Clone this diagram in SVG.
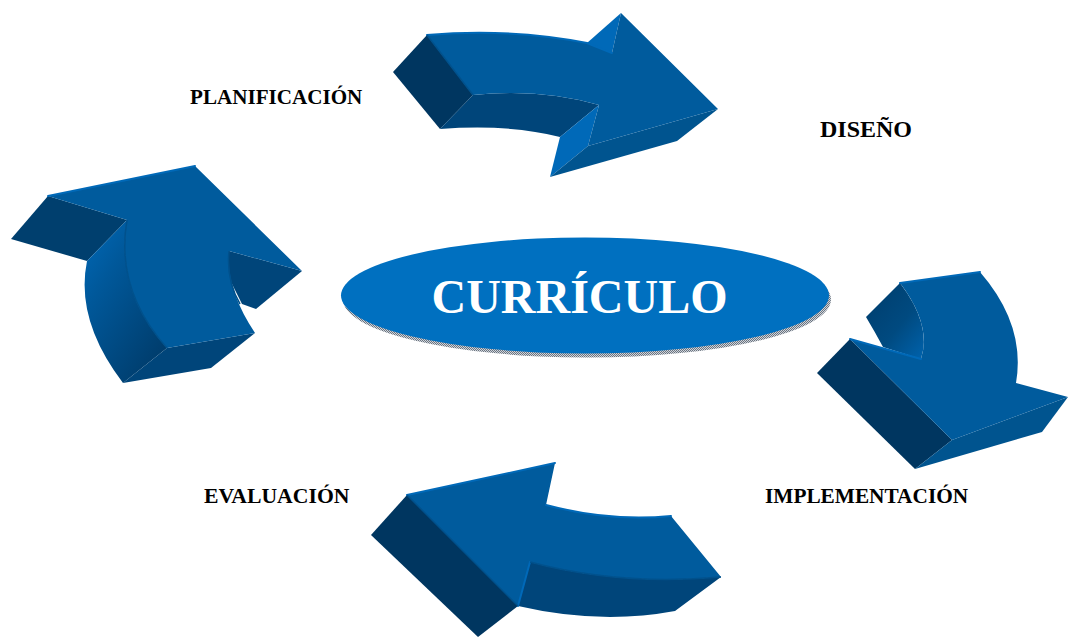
<svg xmlns="http://www.w3.org/2000/svg" width="1068" height="637" viewBox="0 0 1068 637">
<style>
.m{fill:#005b9d}.d{fill:#003660}.dl{fill:#003f6e}.s{fill:#00457a}.b{fill:#00548f}.l{fill:#0069b8}
.e{fill:none;stroke:#0069b8;stroke-width:2;stroke-linecap:round}
.e2{fill:none;stroke:#00518c;stroke-width:1.5}
text{font-family:"Liberation Serif","Times New Roman",serif;font-weight:bold}
.t{fill:#000}
</style>
<defs>
<linearGradient id="g1" x1="0" y1="0" x2="0.75" y2="1"><stop offset="0" stop-color="#0069b8"/><stop offset="0.35" stop-color="#00589a"/><stop offset="1" stop-color="#003c6b"/></linearGradient>
<linearGradient id="g2" x1="0" y1="0" x2="0.9" y2="1"><stop offset="0" stop-color="#003c6b"/><stop offset="0.6" stop-color="#004a80"/><stop offset="1" stop-color="#0060a8"/></linearGradient>
<pattern id="dither" width="2" height="2" patternUnits="userSpaceOnUse"><rect width="2" height="2" fill="#d0d4da"/><rect width="1" height="1" fill="#6a7480"/><rect x="1" y="1" width="1" height="1" fill="#6a7480"/></pattern>
</defs>
<g id="connectors">
<g id="arrow-top">
<path class="d" d="M427 35L393 72L440 129L473 95Z"/>
<path class="s" d="M473 95L440 129Q510 124 560 137L599 105Q540 88 473 95Z"/>
<path class="l" d="M587 43L621 13L612 53Z"/>
<path class="l" d="M560 137L599 105L588 146L550 177Z"/>
<path class="b" d="M550 177L588 146L718 109L677 141Z"/>
<path class="m" d="M427 35Q510 28 587 43L612 53L621 13L718 109L588 146L599 105Q540 88 473 95Z"/>
<path class="e" d="M427 35Q510 28 587 43L612 53"/>
<path class="e2" d="M427 35L473 95"/>
</g>
<g id="arrow-left">
<path class="dl" d="M48 196L127 220L87 261L11 239Z"/>
<path class="s" d="M229 251L302 271L256 309L242 304L225 270Z"/>
<path fill="url(#g1)" d="M127 220L87 261Q75 320 123 383L167 348Q115 290 127 220Z"/>
<path class="s" d="M167 348L255 333L211 368L123 383Z"/>
<path class="m" d="M48 196L195 166L302 271L229 251Q226 290 255 333L167 348Q115 290 127 220Z"/>
<path class="e" d="M48 196L195 166"/>
<path class="e2" d="M127 220Q115 290 167 348M229 251Q226 280 240 304"/>
</g>
<g id="arrow-right">
<path fill="url(#g2)" d="M900 283L866 317Q875 332 883 347L921 359Q932 325 900 283Z"/>
<path class="d" d="M850 339L952 440L915 469L817 373Z"/>
<path class="b" d="M952 440L1068 397L1042 432L915 469Z"/>
<path class="m" d="M900 283L980 272Q1026 325 1016 383L1068 397L952 440L850 339L921 359Q932 325 900 283Z"/>
<path class="e" d="M900 283L980 272M850 339L921 359"/>
</g>
<g id="arrow-bottom">
<path class="d" d="M407 495L518 606L478 637L371 535Z"/>
<path class="s" d="M530 562Q620 586 721 577L675 611Q600 625 518 606Z"/>
<path class="m" d="M407 495L555 463L546 505Q610 522 671 516L721 577Q620 586 530 562L518 606Z"/>
<path class="e" d="M407 495L555 463M546 505Q610 522 671 516M530 562L518 606"/>
<path class="e2" d="M407 495L518 606M530 562Q620 586 721 577"/>
</g>
</g>
<g id="node-curriculo">
<ellipse cx="587" cy="299.500" rx="244" ry="58" fill="url(#dither)"/>
<ellipse cx="585" cy="295.500" rx="244" ry="58" fill="#0070c0"/>
<text x="579.500" y="313" text-anchor="middle" font-size="48" fill="#fff">CURRÍCULO</text>
</g>
<g id="node-planificacion"><text class="t" x="190" y="104" font-size="21.100">PLANIFICACIÓN</text></g>
<g id="node-diseno"><text class="t" x="820" y="137" font-size="24">DISEÑO</text></g>
<g id="node-implementacion"><text class="t" x="765" y="503" font-size="21.300">IMPLEMENTACIÓN</text></g>
<g id="node-evaluacion"><text class="t" x="204" y="503" font-size="21.700">EVALUACIÓN</text></g>
</svg>
